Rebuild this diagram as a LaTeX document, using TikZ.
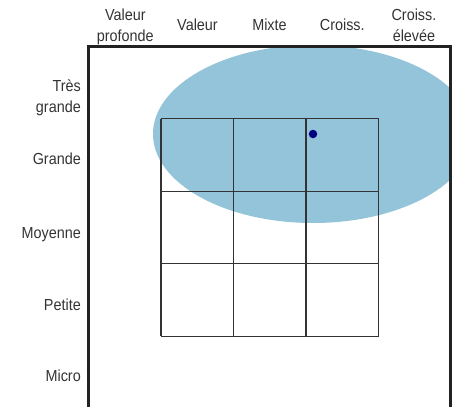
\documentclass[tikz,border=0pt]{standalone}
\usepackage{fontspec}
\setmainfont{Liberation Sans}[FakeStretch=0.9]
\definecolor{ellblue}{HTML}{94C4DA}
\definecolor{dotnavy}{HTML}{000080}
\definecolor{txtgray}{HTML}{333333}
\definecolor{framegray}{HTML}{222222}
\begin{document}
\begin{tikzpicture}[x=1pt,y=-1pt,
  lbl/.style={font=\fontsize{16}{20}\selectfont, text=txtgray, inner sep=0pt, anchor=base},
  rowlbl/.style={lbl, anchor=base east},
  gridline/.style={draw=black!80, line width=1.1pt},
  framestyle/.style={draw=framegray, line width=3pt, line join=miter}]
\useasboundingbox (0,0) rectangle (456,407);
% ellipse clipped by the frame
\begin{scope}
  \clip (90,47.8) rectangle (449.3,407);
  \fill[ellblue] (313,134) ellipse [x radius=160, y radius=89];
\end{scope}
% grid 3x3
\foreach \x in {161,233.5,306,378.5} \draw[gridline] (\x,118.7) -- (\x,336.2);
\foreach \y in {118.7,191.2,263.7,336.2} \draw[gridline] (161,\y) -- (378.5,\y);
% frame (open at bottom)
\draw[framestyle] (88.5,407) -- (88.5,46.3) -- (450.8,46.3) -- (450.8,407);
% dot
\node[circle, fill=dotnavy, inner sep=0pt, minimum size=8.5pt] (dot) at (313,134) {};
% column headers
\node[lbl] (h1a) at (125.3,20.7) {Valeur};
\node[lbl] (h1b) at (125.3,41.7) {profonde};
\node[lbl] (h2) at (197.5,30.7) {Valeur};
\node[lbl] (h3) at (269.5,30.7) {Mixte};
\node[lbl] (h4) at (342.3,30.7) {Croiss.};
\node[lbl] (h5a) at (414,20.7) {Croiss.};
\node[lbl] (h5b) at (414,41.7) {élevée};
% row labels
\node[rowlbl] (r1a) at (81,91.7) {Très};
\node[rowlbl] (r1b) at (81,112.7) {grande};
\node[rowlbl] (r2) at (81,164) {Grande};
\node[rowlbl] (r3) at (81,238) {Moyenne};
\node[rowlbl] (r4) at (81,310) {Petite};
\node[rowlbl] (r5) at (81,381.7) {Micro};
\end{tikzpicture}
\end{document}
